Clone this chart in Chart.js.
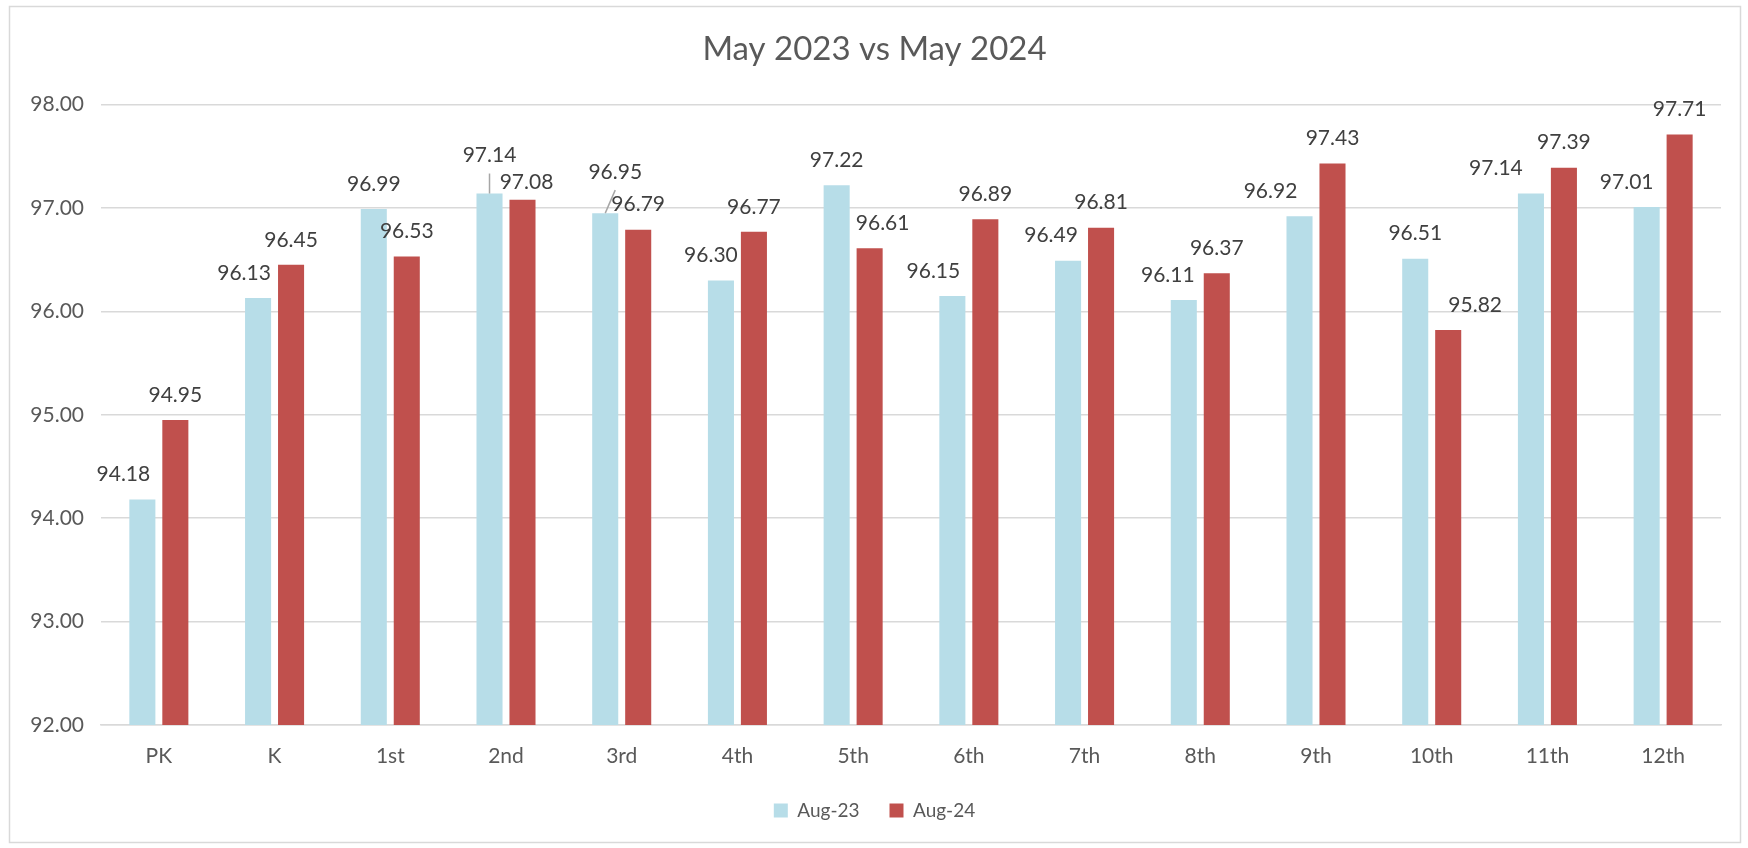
<!DOCTYPE html>
<html>
<head>
<meta charset="utf-8">
<title>May 2023 vs May 2024</title>
<script src="https://cdn.jsdelivr.net/npm/chart.js@4.4.1/dist/chart.umd.min.js"></script>
<style>
  body { margin: 0; background: #ffffff; }
  canvas { display: block; }
</style>
</head>
<body>
<canvas id="grafico" width="1748" height="848"></canvas>
<script>
// Datos
const categorias = ['PK', 'K', '1st', '2nd', '3rd', '4th', '5th', '6th', '7th', '8th', '9th', '10th', '11th', '12th'];
const aug23 = [94.18, 96.13, 96.99, 97.14, 96.95, 96.30, 97.22, 96.15, 96.49, 96.11, 96.92, 96.51, 97.14, 97.01];
const aug24 = [94.95, 96.45, 96.53, 97.08, 96.79, 96.77, 96.61, 96.89, 96.81, 96.37, 97.43, 95.82, 97.39, 97.71];
const ejeMin = 92;
const ejeMax = 98;
const ejePaso = 1;

const fuente = 'Lato, "Open Sans", sans-serif';

// Plugin sencillo para las etiquetas de datos (sin chartjs-plugin-datalabels)
const etiquetasDatos = {
    id: 'etiquetasDatos',
    afterDatasetsDraw(chart, args, opts) {
        const ctx = chart.ctx;
        ctx.save();
        ctx.font = '21px ' + fuente;
        ctx.fillStyle = '#404040';
        ctx.textAlign = 'center';
        ctx.textBaseline = 'middle';
        chart.data.datasets.forEach((ds, d) => {
            const meta = chart.getDatasetMeta(d);
            const ajuste = opts.ajustes[d];
            meta.data.forEach((barra, i) => {
                const dx = ajuste.dx[i] || 0;
                const dy = ajuste.dy[i] || 0;
                const lx = barra.x + dx;
                const ly = barra.y - 25 + dy;
                // Línea guía cuando la etiqueta está desplazada hacia arriba
                if (ajuste.guia.includes(i)) {
                    ctx.strokeStyle = '#a6a6a6';
                    ctx.lineWidth = 1.5;
                    ctx.beginPath();
                    ctx.moveTo(barra.x, barra.y);
                    ctx.lineTo(lx, ly + 18);
                    ctx.stroke();
                }
                ctx.fillText(ds.data[i].toFixed(2), lx, ly);
            });
        });
        ctx.restore();
    }
};

// Marco gris alrededor del gráfico
const marco = {
    id: 'marco',
    beforeDraw(chart) {
        const ctx = chart.ctx;
        ctx.save();
        ctx.fillStyle = '#ffffff';
        ctx.fillRect(0, 0, chart.width, chart.height);
        ctx.strokeStyle = '#d9d9d9';
        ctx.lineWidth = 1.5;
        ctx.strokeRect(9.5, 6.5, 1731, 836);
        ctx.restore();
    }
};

const ctx = document.getElementById('grafico').getContext('2d');
const grafico = new Chart(ctx, {
    type: 'bar',
    data: {
        labels: categorias,
        datasets: [{
            label: 'Aug-23',
            data: aug23,
            backgroundColor: '#b7dde8',
            categoryPercentage: 0.57,
            barPercentage: 0.79
        }, {
            label: 'Aug-24',
            data: aug24,
            backgroundColor: '#c0504d',
            categoryPercentage: 0.57,
            barPercentage: 0.79
        }]
    },
    options: {
        responsive: false,
        animation: false,
        layout: {
            padding: { left: 28, right: 27, top: 0, bottom: 18 }
        },
        scales: {
            x: {
                grid: { display: false },
                border: { color: '#d9d9d9', width: 1.5 },
                ticks: {
                    color: '#595959',
                    font: { family: fuente, size: 21 },
                    padding: 11
                },
                afterFit(scale) { scale.height = 46; }
            },
            y: {
                min: ejeMin,
                max: ejeMax,
                border: { display: false },
                grid: { color: '#d9d9d9', lineWidth: 1.5, drawTicks: false },
                ticks: {
                    stepSize: ejePaso,
                    color: '#595959',
                    font: { family: fuente, size: 21 },
                    padding: 17,
                    callback: v => v.toFixed(2)
                },
                afterFit(scale) { scale.width = 73; }
            }
        },
        plugins: {
            title: {
                display: true,
                text: 'May 2023 vs May 2024',
                color: '#595959',
                font: { family: fuente, size: 33, weight: 'normal' },
                padding: { top: 30, bottom: 35 }
            },
            legend: {
                position: 'bottom',
                labels: {
                    color: '#595959',
                    font: { family: fuente, size: 19 },
                    boxWidth: 14,
                    boxHeight: 14,
                    padding: 30
                }
            },
            tooltip: { enabled: false },
            etiquetasDatos: {
                ajustes: [
                    {
                        dx: [-19, -14, 0, 0, 10, -10, 0, -19, -17, -16, -29, 0, -35, -20],
                        dy: [0, 0, 0, -13, -16, 0, 0, 0, 0, 0, 0, 0, 0, 0],
                        guia: [3, 4]
                    },
                    {
                        dx: [0, 0, 0, 4, 0, 0, 13, 0, 0, 0, 0, 27, 0, 0],
                        dy: [0, 0, 0, 8, 0, 0, 0, 0, 0, 0, 0, 0, 0, 0],
                        guia: []
                    }
                ]
            }
        }
    },
    plugins: [marco, etiquetasDatos]
});
</script>
</body>
</html>
